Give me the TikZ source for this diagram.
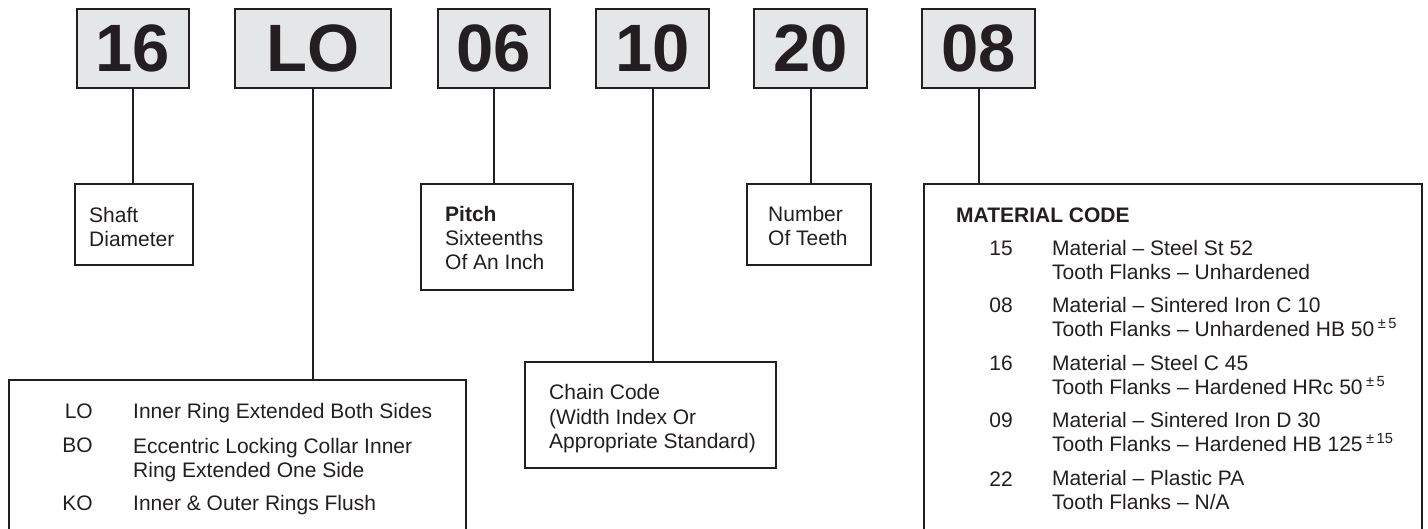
\documentclass[tikz,border=0pt]{standalone}
\usepackage{fontspec}
\setmainfont{Liberation Sans}
\usepackage{tikz}
\usetikzlibrary{positioning}
\tikzstyle{sheet} = [x = 1pt, y = -1pt]
\definecolor{lineColor}{RGB}{35,31,32}
\definecolor{codeFill}{RGB}{229,230,231}
\tikzstyle{codeStyle} = [draw=lineColor, fill=codeFill, line width=2pt, minimum height=79pt, inner sep=0pt, text=lineColor, font=\fontsize{67}{67}\selectfont\bfseries]
\tikzstyle{infoStyle} = [draw=lineColor, line width=2pt, anchor=north west, inner sep=0pt]
% multi-line texts sit on the baseline of their last line
\tikzstyle{infoText} = [anchor=base west, align=left, inner sep=0pt, text=lineColor, font=\fontsize{21}{24}\selectfont]
\tikzstyle{keyText} = [anchor=base east, inner sep=0pt, text=lineColor, font=\fontsize{21}{24}\selectfont]
\tikzstyle{leader} = [draw=lineColor, line width=2pt]
\newcommand{\codeBox}[4]{\node [codeStyle, minimum width=#3pt] (#1) at (#2, 48.5) {#4};}
\newcommand{\infoBox}[5]{\node [infoStyle, minimum width=#4pt, minimum height=#5pt] (#1) at (#2, #3) {};}
\newcommand{\leaderLine}[2]{\draw [leader] (#1.south) -- (#1.south |- #2.north);}
\newcommand{\ringEntry}[5]{
  \node [keyText] (#1Key) at (93, #2) {#4};
  \node [infoText] (#1Text) at (133, #3) {#5};
}
\newcommand{\materialEntry}[3]{
  \pgfmathsetmacro{\lastLine}{#1 + 23.5}
  \node [keyText] (m#2Key) at (1013, #1) {#2};
  \node [infoText] (m#2Text) at (1052, \lastLine) {#3};
}

\begin{document}
\begin{tikzpicture}[sheet]
  \useasboundingbox (0,0) rectangle (1428,529);
  \clip (0,0) rectangle (1428,529);

  % code boxes
  \codeBox{codeShaft}{133}{112}{16}
  \codeBox{codeType}{313}{156}{LO}
  \codeBox{codePitch}{494}{112}{06}
  \codeBox{codeChain}{652.5}{113}{10}
  \codeBox{codeTeeth}{810.5}{113}{20}
  \codeBox{codeMaterial}{978.5}{113}{08}

  % description boxes
  \infoBox{shaftBox}{74}{183}{118}{81}
  \infoBox{pitchBox}{420}{183}{152}{106}
  \infoBox{teethBox}{746}{183}{124}{81}
  \infoBox{typeBox}{8}{379}{457}{170}
  \infoBox{chainBox}{524}{361}{251}{106}
  \infoBox{materialBox}{923}{183}{498}{360}

  \leaderLine{codeShaft}{shaftBox}
  \leaderLine{codeType}{typeBox}
  \leaderLine{codePitch}{pitchBox}
  \leaderLine{codeChain}{chainBox}
  \leaderLine{codeTeeth}{teethBox}
  \leaderLine{codeMaterial}{materialBox}

  \node [infoText] (shaftText) at (89, 247) {Shaft\\Diameter};
  \node [infoText] (pitchText) at (445, 270) {\textbf{Pitch}\\Sixteenths\\Of An Inch};
  \node [infoText] (teethText) at (768, 246) {Number\\Of Teeth};
  \node [infoText] (chainText) at (549, 448) {Chain Code\\(Width Index Or\\Appropriate Standard)};

  \ringEntry{lo}{418}{418}{LO}{Inner Ring Extended Both Sides}
  \ringEntry{bo}{453}{477}{BO}{Eccentric Locking Collar Inner\\Ring Extended One Side}
  \ringEntry{ko}{510}{510}{KO}{Inner \& Outer Rings Flush}

  \node [infoText] (materialHead) at (956, 223) {\textbf{MATERIAL CODE}};
  \materialEntry{256}{15}{Material – Steel St 52\\Tooth Flanks – Unhardened}
  \materialEntry{313}{08}{Material – Sintered Iron C 10\\Tooth Flanks – Unhardened HB 50\,\textsuperscript{±\,5}}
  \materialEntry{371}{16}{Material – Steel C 45\\Tooth Flanks – Hardened HRc 50\,\textsuperscript{±\,5}}
  \materialEntry{428}{09}{Material – Sintered Iron D 30\\Tooth Flanks – Hardened HB 125\,\textsuperscript{±\,15}}
  \materialEntry{486}{22}{Material – Plastic PA\\Tooth Flanks – N/A}
\end{tikzpicture}
\end{document}
